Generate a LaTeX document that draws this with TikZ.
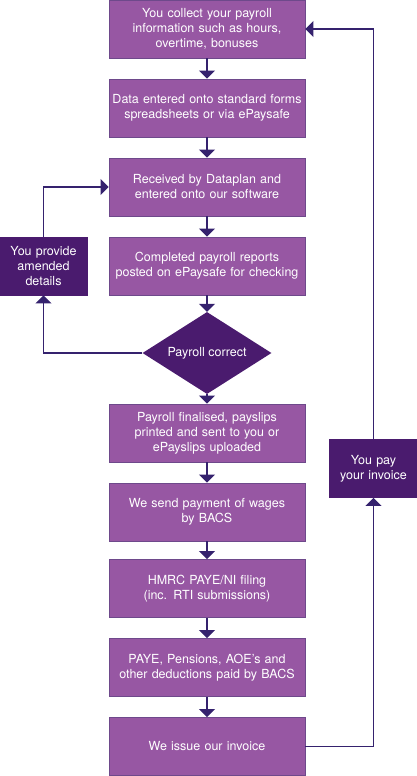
\documentclass[tikz,border=0pt]{standalone}
\usepackage{fontspec}
\setmainfont{TeX Gyre Heros}
\usetikzlibrary{shapes.geometric,arrows.meta}

\definecolor{steplight}{HTML}{9757A3}
\definecolor{stepdark}{HTML}{4A1B6E}
\definecolor{flowline}{HTML}{35226E}

\tikzset{
    stepbox/.style={draw=stepdark!80, line width=0.9pt, fill=steplight, text=white,
        minimum width=196pt, minimum height=58pt, text width=194pt, align=center,
        inner sep=1pt, font=\fontsize{12.5}{15}\selectfont},
    sidebox/.style={stepbox, fill=stepdark, draw=stepdark,
        minimum width=87pt, text width=86pt},
    checkbox/.style={diamond, aspect=1.57, fill=stepdark, text=white, inner sep=0pt,
        minimum width=129pt, minimum height=82pt, font=\fontsize{12.5}{15}\selectfont},
    flow/.style={draw=flowline, line width=1.2pt, -{Triangle[width=16pt,length=8pt]}},
}

\begin{document}
\begin{tikzpicture}[x=1pt, y=-1pt]
    \useasboundingbox (0,0) rectangle (417,776);

    % Main column (centre x = 207, pitch 79)
    \node[stepbox] (collect) at (207,29) {You collect your payroll\\information such as hours,\\overtime, bonuses};
    \node[stepbox] (enter) at (207,108) {Data entered onto standard forms\\spreadsheets or via ePaysafe};
    \node[stepbox] (receive) at (207,187) {Received by Dataplan and\\entered onto our software};
    \node[stepbox] (reports) at (207,266) {Completed payroll reports\\posted on ePaysafe for checking};
    \node[checkbox] (correct) at (207,353) {Payroll correct};
    \node[stepbox] (final) at (207,433) {Payroll finalised, payslips\\printed and sent to you or\\ePayslips uploaded};
    \node[stepbox] (wages) at (207,512) {We send payment of wages\\by BACS};
    \node[stepbox] (hmrc) at (207,588.5) {HMRC PAYE/NI filing\\(inc. RTI submissions)};
    \node[stepbox] (deduct) at (207,667.5) {PAYE, Pensions, AOE's and\\other deductions paid by BACS};
    \node[stepbox] (invoice) at (207,746.5) {We issue our invoice};

    % Side boxes
    \node[sidebox] (amend) at (43.5,266) {You provide\\amended\\details};
    \node[sidebox] (pay) at (373.5,468.5) {You pay\\your invoice};

    % Down the column
    \draw[flow] (collect) -- (enter);
    \draw[flow] (enter) -- (receive);
    \draw[flow] (receive) -- (reports);
    \draw[flow] (reports) -- (correct);
    \draw[flow] (correct) -- (final);
    \draw[flow] (final) -- (wages);
    \draw[flow] (wages) -- (hmrc);
    \draw[flow] (hmrc) -- (deduct);
    \draw[flow] (deduct) -- (invoice);

    % Correction loop (left)
    \draw[flow] (correct.west) -| (amend.south);
    \draw[flow] (amend.north) |- (receive.west);

    % Invoice loop (right)
    \draw[flow] (invoice.east) -| (pay.south);
    \draw[flow] (pay.north) |- (collect.east);
\end{tikzpicture}
\end{document}
